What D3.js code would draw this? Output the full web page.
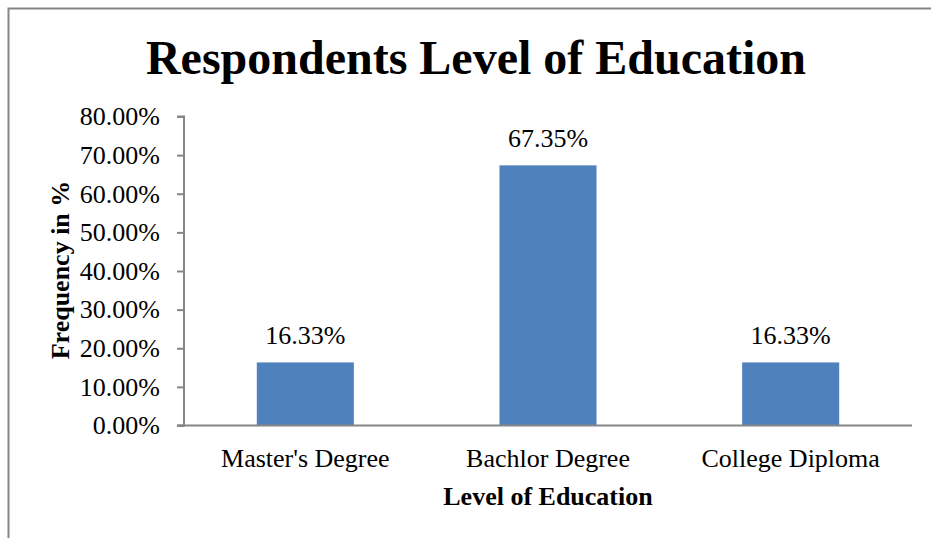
<!DOCTYPE html>
<html><head><meta charset="utf-8">
<script src="https://cdn.jsdelivr.net/npm/d3@7"></script>
<style>body{margin:0;background:#fff}svg{display:block}</style>
</head><body>
<script>
const categories = ["Master's Degree", "Bachlor Degree", "College Diploma"];
const values = [16.33, 67.35, 16.33];
const yTicks = [0, 10, 20, 30, 40, 50, 60, 70, 80];
const title = "Respondents Level of Education";
const xTitle = "Level of Education";
const yTitle = "Frequency in %";

const W = 931, H = 538;
const svg = d3.select("body").append("svg").attr("width", W).attr("height", H);
const font = "'Liberation Serif','Times New Roman',serif";
const fs = 26;

// frame
svg.append("path").attr("d", `M8.5,${H} V8.5 H${W}`).attr("fill","none").attr("stroke","#868686").attr("stroke-width",2);

const mLeft = 184, mRight = 912, mTop = 116.5, mBottom = 425.5;
const x = d3.scaleBand().domain(categories).range([mLeft, mRight]).paddingInner(0.6).paddingOuter(0.3);
const y = d3.scaleLinear().domain([0, 80]).range([mBottom, mTop]);

svg.selectAll("rect.bar").data(values).join("rect").attr("class","bar")
  .attr("x", (d,i) => x(categories[i])).attr("width", x.bandwidth())
  .attr("y", d => y(d)).attr("height", d => y(0) - y(d)).attr("fill", "#4f81bd");

const yAxis = svg.append("g").attr("transform", `translate(${mLeft},0)`)
  .call(d3.axisLeft(y).tickValues(yTicks).tickSize(7).tickPadding(17).tickFormat(d => d.toFixed(2) + "%"));
yAxis.select(".domain").attr("stroke", "#868686").attr("stroke-width", 2).attr("d", `M-7,${mTop}H0V${mBottom}H-7`);
yAxis.selectAll(".tick line").attr("stroke", "#868686").attr("stroke-width", 2);
yAxis.selectAll("text").attr("font-family", font).attr("font-size", fs).attr("fill", "#000");

const xAxis = svg.append("g").attr("transform", `translate(0,${mBottom})`)
  .call(d3.axisBottom(x).tickSize(0).tickPadding(23));
xAxis.select(".domain").attr("stroke", "#868686").attr("stroke-width", 2).attr("d", `M177,0H${mRight}`);
xAxis.selectAll("text").attr("font-family", font).attr("font-size", fs).attr("fill", "#000");

svg.selectAll("text.lbl").data(values).join("text").attr("class","lbl")
  .attr("x", (d,i) => x(categories[i]) + x.bandwidth()/2).attr("y", d => y(d) - 18)
  .attr("text-anchor","middle").attr("font-family", font).attr("font-size", fs)
  .text(d => d.toFixed(2) + "%");

svg.append("text").attr("x", 476).attr("y", 74).attr("text-anchor","middle")
  .attr("font-family", font).attr("font-weight","bold").attr("font-size", 48).text(title);

svg.append("text").attr("x", 548).attr("y", 505).attr("text-anchor","middle")
  .attr("font-family", font).attr("font-weight","bold").attr("font-size", fs).text(xTitle);

svg.append("text").attr("transform", `translate(69,270) rotate(-90)`).attr("text-anchor","middle")
  .attr("font-family", font).attr("font-weight","bold").attr("font-size", fs).text(yTitle);
</script>
</body></html>
